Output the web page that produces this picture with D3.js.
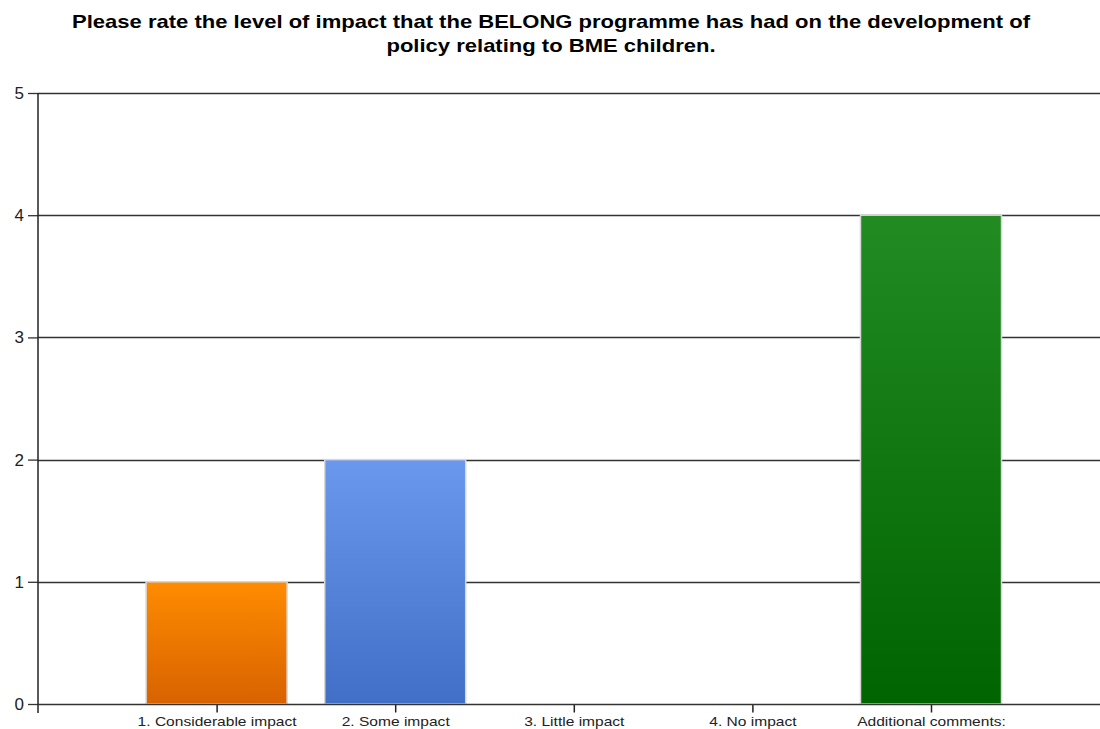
<!DOCTYPE html>
<html><head><meta charset="utf-8">
<script src="https://cdn.jsdelivr.net/npm/d3@7"></script>
<style>body{margin:0;background:#fff;overflow:hidden}</style>
</head><body>
<svg id="c" width="1100" height="729"></svg>
<script>
const categories = ["1. Considerable impact","2. Some impact","3. Little impact","4. No impact","Additional comments:"];
const values = [1, 2, 0, 0, 4];
const yTicks = [0,1,2,3,4,5];
const titleLines = ["Please rate the level of impact that the BELONG programme has had on the development of","policy relating to BME children."];
const barColors = [["#ff8c00","#d86200"],["#6a98ee","#416fc7"],["#228b22","#006400"]];

(function(){
const svg = d3.select("#c");
const mLeft = 38, mTop = 93, mBottom = 704, mRight = 1100;
const x = d3.scaleLinear().domain([0, 6]).range([mLeft, mLeft + 178.6*6]);
const y = d3.scaleLinear().domain([0, 5]).range([mBottom, mTop]);
const bw = 141;

function stretch(sel, f){
  sel.each(function(){
    const w = this.getComputedTextLength();
    d3.select(this).attr("textLength", w*f).attr("lengthAdjust","spacingAndGlyphs");
  });
}

const defs = svg.append("defs");
barColors.forEach((c,i)=>{
  const g = defs.append("linearGradient").attr("id","g"+i).attr("x1",0).attr("y1",0).attr("x2",0).attr("y2",1);
  g.append("stop").attr("offset","0%").attr("stop-color",c[0]);
  g.append("stop").attr("offset","100%").attr("stop-color",c[1]);
});

const tt = svg.append("g").selectAll("text").data(titleLines).join("text")
  .attr("x", 551).attr("y",(d,i)=>28+i*24).attr("text-anchor","middle")
  .attr("font-family","Liberation Sans, Arial, sans-serif").attr("font-weight","bold").attr("font-size",19)
  .attr("fill","#000").text(d=>d);
// fit first line to reference width, same factor for the second
const tw = tt.nodes()[0].getComputedTextLength();
stretch(tt, 958/tw);

// gridlines
svg.append("g").selectAll("line").data(yTicks.filter(t=>t>0)).join("line")
  .attr("x1",mLeft).attr("x2",mRight).attr("y1",d=>Math.round(y(d))+0.5).attr("y2",d=>Math.round(y(d))+0.5)
  .attr("stroke","#333").attr("stroke-width",1.3);

// bars
svg.append("g").selectAll("rect").data(values.map((v,i)=>({v,i})).filter(d=>d.v>0)).join("rect")
  .attr("x",d=>x(d.i+1)-bw/2).attr("width",bw)
  .attr("y",d=>y(d.v)).attr("height",d=>y(0)-y(d.v))
  .attr("fill",d=>`url(#g${Math.min(d.i,2)})`)
  .attr("stroke","#d8d8d8").attr("stroke-width",1.5);

// y axis
const ya = svg.append("g").attr("transform",`translate(${mLeft},0)`)
  .call(d3.axisLeft(y).tickValues(yTicks).tickFormat(d3.format("d")).tickSize(10).tickPadding(4));
ya.select(".domain").remove();
ya.append("line").attr("x1",0).attr("x2",0).attr("y1",mTop).attr("y2",mBottom+9).attr("stroke","#222").attr("stroke-width",1.5);
ya.selectAll(".tick line").attr("stroke","#333").attr("stroke-width",1.3);
ya.selectAll(".tick text").attr("font-family","Liberation Sans, Arial, sans-serif").attr("font-size",17).attr("fill","#222");

// x axis
const xa = svg.append("g").attr("transform",`translate(0,${Math.round(y(0))+0.5})`)
  .call(d3.axisBottom(x).tickValues([1,2,3,4,5]).tickFormat(d=>categories[d-1]).tickSize(8).tickPadding(4));
xa.select(".domain").remove();
xa.append("line").attr("x1",mLeft).attr("x2",mRight).attr("stroke","#333").attr("stroke-width",1.5);
xa.selectAll(".tick line").attr("stroke","#222").attr("stroke-width",1.5);
const xt = xa.selectAll(".tick text").attr("font-family","Liberation Sans, Arial, sans-serif").attr("font-size",13).attr("fill","#222");
const xw = xt.nodes()[0].getComputedTextLength();
stretch(xt, 159/xw);
})();
</script>
</body></html>
